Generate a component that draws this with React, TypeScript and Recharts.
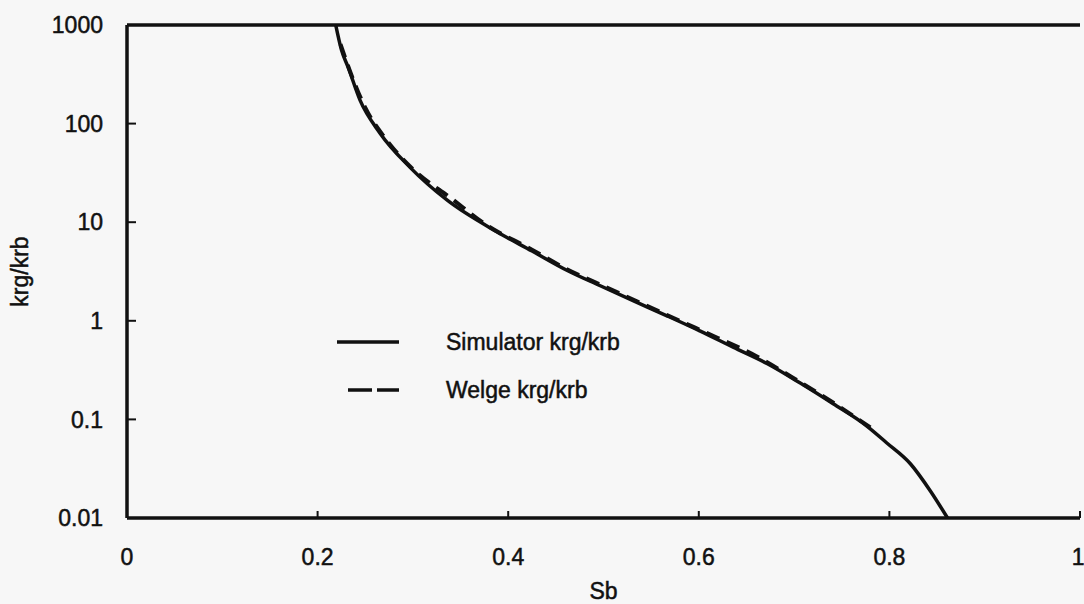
import React from 'react';
import { LineChart, Line, XAxis, YAxis, ReferenceLine, Legend } from 'recharts';

// Gas / brine relative permeability ratio versus brine saturation
const simulatorSb = [0.219, 0.225, 0.232, 0.2445, 0.2655, 0.297, 0.336, 0.388, 0.425, 0.462, 0.496, 0.531, 0.566, 0.601, 0.636, 0.672, 0.706, 0.741, 0.776, 0.797, 0.822, 0.843, 0.861];
const simulatorRatio = [1000, 560, 374, 173, 80, 36, 16.7, 8.0, 5.1, 3.24, 2.28, 1.6, 1.13, 0.79, 0.54, 0.367, 0.235, 0.144, 0.086, 0.058, 0.0355, 0.0188, 0.01];

const welgeSb = [0.224, 0.235, 0.25, 0.27, 0.3, 0.34, 0.38, 0.42, 0.46, 0.5, 0.54, 0.58, 0.62, 0.66, 0.7, 0.74, 0.78];
const welgeRatio = [640, 320, 145, 73, 34.5, 17.5, 9.0, 5.6, 3.4, 2.25, 1.5, 1.0, 0.67, 0.44, 0.26, 0.15, 0.083];

const xTicks = [0, 0.2, 0.4, 0.6, 0.8, 1];
const yTicks = [0.01, 0.1, 1, 10, 100, 1000];

const seriesNames = ['Simulator krg/krb', 'Welge krg/krb'];

const simulatorData = simulatorSb.map((sb, i) => ({ sb, ratio: simulatorRatio[i] }));
const welgeData = welgeSb.map((sb, i) => ({ sb, ratio: welgeRatio[i] }));

const INK = '#111111';
const FONT = '"Liberation Sans", Arial, Helvetica, sans-serif';
const FONT_SIZE = 23;
const TEXT_STROKE = 0.5;

const tickStyle = { fill: INK, stroke: INK, strokeWidth: TEXT_STROKE, fontSize: FONT_SIZE, fontFamily: FONT };

const legendRows = [
  { name: seriesNames[0], x1: 0, dash: undefined as string | undefined },
  { name: seriesNames[1], x1: 11, dash: '24 5' },
];

function renderLegend() {
  return (
    <svg width={320} height={96} style={{ display: 'block' }}>
      {legendRows.map((row, i) => {
        const cy = 24 + i * 48;
        return (
          <g key={row.name}>
            <line x1={row.x1} x2={62} y1={cy} y2={cy} stroke={INK} strokeWidth={3.5} strokeDasharray={row.dash} />
            <text
              x={109}
              y={cy}
              dominantBaseline="central"
              fill={INK}
              stroke={INK}
              strokeWidth={TEXT_STROKE}
              fontSize={FONT_SIZE}
              fontFamily={FONT}
            >
              {row.name}
            </text>
          </g>
        );
      })}
    </svg>
  );
}

function YTitle(props: any) {
  const vb = props.viewBox || { x: 0, y: 0, width: 0, height: 0 };
  const cx = vb.x + 20;
  const cy = vb.y + vb.height / 2;
  return (
    <text
      x={cx}
      y={cy}
      transform={`rotate(-90, ${cx}, ${cy})`}
      textAnchor="middle"
      dominantBaseline="central"
      fill={INK}
      stroke={INK}
      strokeWidth={TEXT_STROKE}
      fontSize={FONT_SIZE}
      fontFamily={FONT}
    >
      krg/krb
    </text>
  );
}

export default function App() {
  return (
    <div style={{ position: 'absolute', left: 0, top: 0, width: 1084, height: 604, background: '#f7f7f7', overflow: 'hidden' }}>
      <LineChart width={1084} height={604} margin={{ top: 25, right: 4, bottom: 0, left: 0 }}>
        <XAxis
          dataKey="sb"
          type="number"
          domain={[0, 1]}
          ticks={xTicks}
          allowDataOverflow
          height={86}
          tickSize={-7}
          tickMargin={38}
          tick={tickStyle}
          axisLine={{ stroke: INK, strokeWidth: 3.5 }}
          tickLine={{ stroke: INK, strokeWidth: 2 }}
          label={{
            value: 'Sb',
            position: 'insideBottom',
            offset: 5,
            fill: INK,
            stroke: INK,
            strokeWidth: TEXT_STROKE,
            fontSize: FONT_SIZE,
            fontFamily: FONT,
          }}
        />
        <YAxis
          type="number"
          scale="log"
          domain={[0.01, 1000]}
          ticks={yTicks}
          allowDataOverflow
          width={127}
          tickSize={-9}
          tickMargin={33}
          tick={tickStyle}
          axisLine={{ stroke: INK, strokeWidth: 3.5 }}
          tickLine={{ stroke: INK, strokeWidth: 2 }}
          label={{ value: 'krg/krb', content: YTitle }}
        />
        <ReferenceLine y={1000} stroke={INK} strokeWidth={3.5} />
        <Line
          data={simulatorData}
          dataKey="ratio"
          name={seriesNames[0]}
          type="monotone"
          stroke={INK}
          strokeWidth={3.5}
          dot={false}
          activeDot={false}
          isAnimationActive={false}
        />
        <Line
          data={welgeData}
          dataKey="ratio"
          name={seriesNames[1]}
          type="monotone"
          stroke={INK}
          strokeWidth={4}
          strokeDasharray="14 8"
          dot={false}
          activeDot={false}
          isAnimationActive={false}
        />
        <Legend
          layout="horizontal"
          verticalAlign="middle"
          align="center"
          content={renderLegend}
          wrapperStyle={{ left: 337, top: 318, width: 320, height: 96 }}
        />
      </LineChart>
    </div>
  );
}
